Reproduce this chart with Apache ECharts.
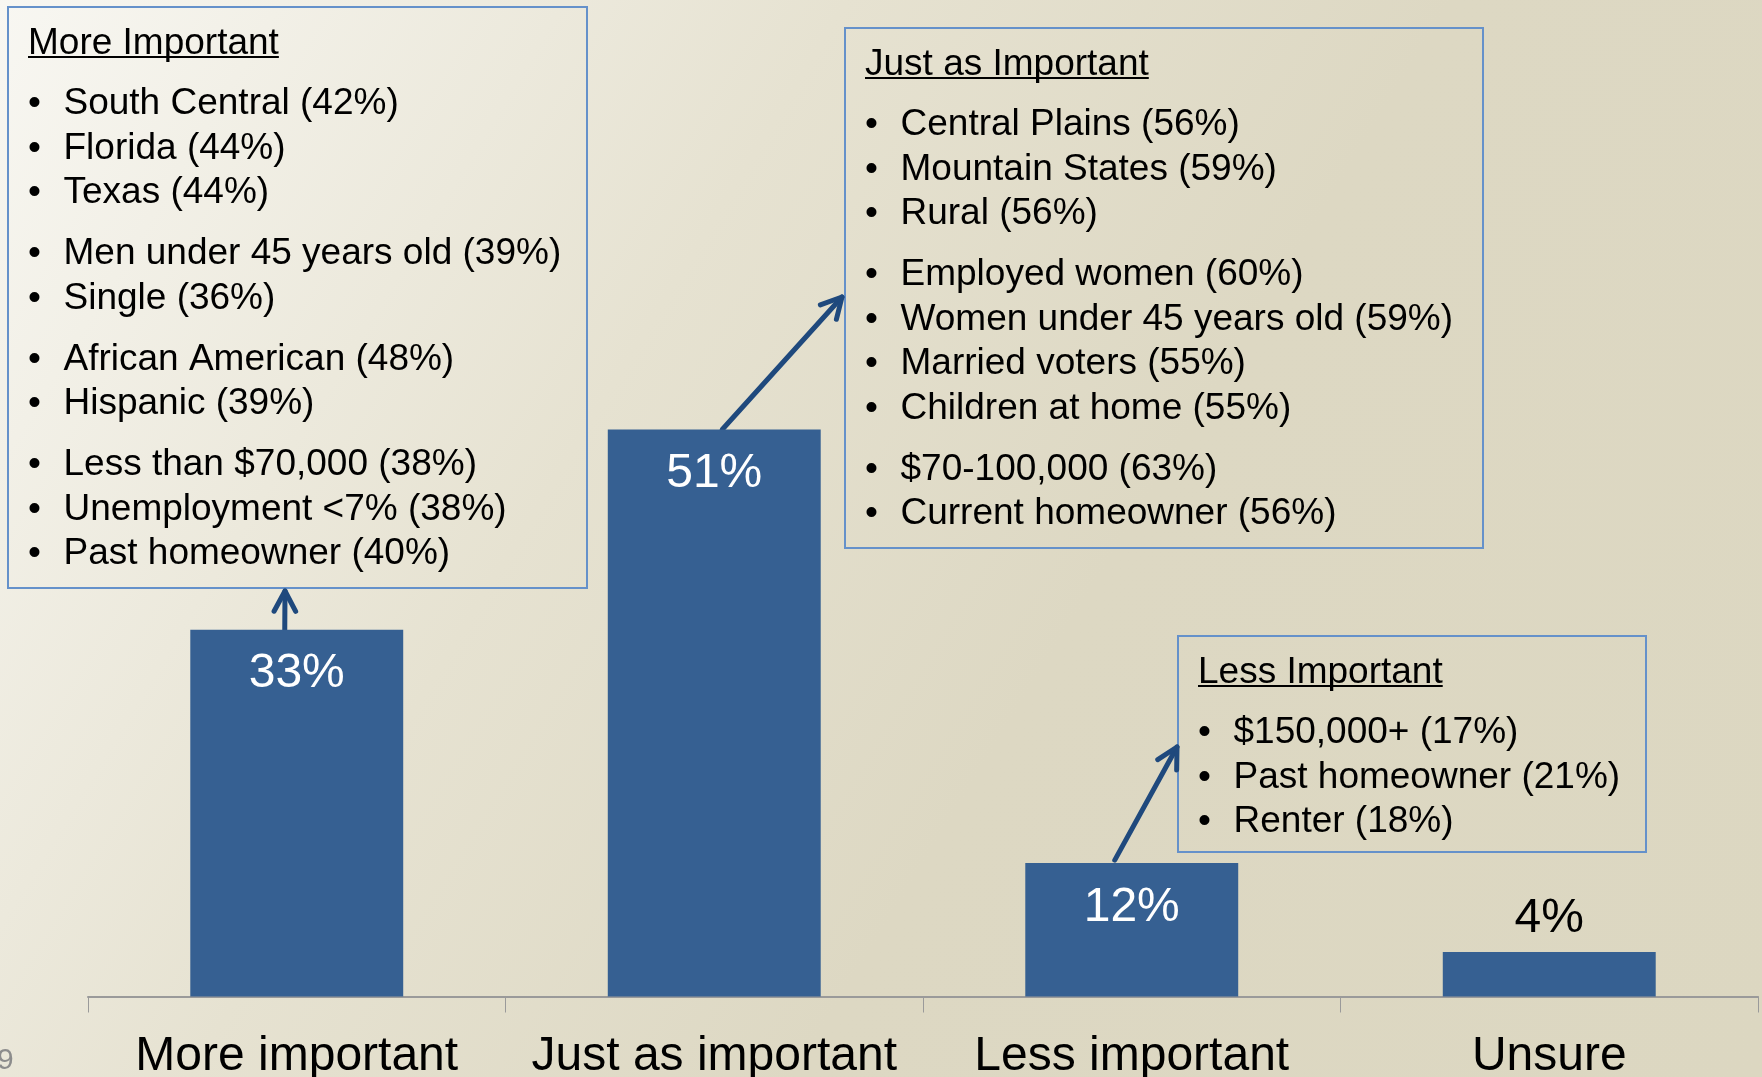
<!DOCTYPE html>
<html>
<head>
<meta charset="utf-8">
<script src="https://cdn.jsdelivr.net/npm/echarts@6/dist/echarts.min.js"></script>
<style>
  html, body { margin: 0; padding: 0; }
  #chart { width: 1762px; height: 1077px; }
</style>
</head>
<body>
<div id="chart"></div>
<script>
// data
var categories = ['More important', 'Just as important', 'Less important', 'Unsure'];
var values = [33, 51, 12, 4];

var moreItems = [
  ['South Central (42%)', 'Florida (44%)', 'Texas (44%)'],
  ['Men under 45 years old (39%)', 'Single (36%)'],
  ['African American (48%)', 'Hispanic (39%)'],
  ['Less than $70,000 (38%)', 'Unemployment <7% (38%)', 'Past homeowner (40%)']
];
var justItems = [
  ['Central Plains (56%)', 'Mountain States (59%)', 'Rural (56%)'],
  ['Employed women (60%)', 'Women under 45 years old (59%)', 'Married voters (55%)', 'Children at home (55%)'],
  ['$70-100,000 (63%)', 'Current homeowner (56%)']
];
var lessItems = [
  ['$150,000+ (17%)', 'Past homeowner (21%)', 'Renter (18%)']
];

var FAMILY = '"Liberation Sans", Arial, sans-serif';
var FONT = '37px ' + FAMILY;

// callout boxes: position + which bar the arrow comes from
var boxes = [
  { title: 'More Important', groups: moreItems, x: 8, y: 7, w: 579, h: 581,
    bar: 0, dx: -12, dy: 0, tip: [285, 591] },
  { title: 'Just as Important', groups: justItems, x: 845, y: 28, w: 638, h: 520,
    bar: 1, dx: 8, dy: 0, tip: [842, 297] },
  { title: 'Less Important', groups: lessItems, x: 1178, y: 636, w: 468, h: 216,
    bar: 2, dx: -17, dy: -3, tip: [1177, 747] }
];

var chart = echarts.init(document.getElementById('chart'));

var measureCtx = document.createElement('canvas').getContext('2d');
function textWidth (s, font) {
  measureCtx.font = font;
  return measureCtx.measureText(s).width;
}

// baseline -> middle for verticalAlign middle
function textEl (s, x, baseline) {
  return {
    type: 'text',
    style: { text: s, x: x, y: baseline - 0.26 * 37, font: FONT, fill: '#000', verticalAlign: 'middle' }
  };
}

function boxGraphics (b) {
  var els = [];
  els.push({
    type: 'rect',
    shape: { x: b.x, y: b.y, width: b.w, height: b.h },
    style: { fill: 'transparent', stroke: '#6591CA', lineWidth: 2 }
  });
  var tx = b.x + 20;
  var base = b.y + 46;
  els.push(textEl(b.title, tx, base));
  var w = textWidth(b.title, FONT);
  els.push({
    type: 'line',
    shape: { x1: tx, y1: base + 4, x2: tx + w, y2: base + 4 },
    style: { stroke: '#000', lineWidth: 2 }
  });
  base += 60.5;
  b.groups.forEach(function (g, gi) {
    if (gi > 0) base += 16.5;
    g.forEach(function (item) {
      els.push(textEl('\u2022', tx, base));
      els.push(textEl(item, b.x + 55.5, base));
      base += 44.5;
    });
  });
  return els;
}

function arrowGraphics (tail, tip) {
  var ang = Math.atan2(tail[1] - tip[1], tail[0] - tip[0]);
  var len = 23, spread = 28 * Math.PI / 180;
  var a1 = [tip[0] + len * Math.cos(ang + spread), tip[1] + len * Math.sin(ang + spread)];
  var a2 = [tip[0] + len * Math.cos(ang - spread), tip[1] + len * Math.sin(ang - spread)];
  var style = { stroke: '#1F497D', lineWidth: 5, lineCap: 'round', lineJoin: 'round', fill: null };
  return [
    { type: 'polyline', shape: { points: [tail, tip] }, style: style },
    { type: 'polyline', shape: { points: [a1, tip, a2] }, style: style }
  ];
}

chart.setOption({
  backgroundColor: {
    type: 'linear', x: 0, y: 0, x2: 1, y2: 1,
    colorStops: [
      { offset: 0, color: '#F8F7F2' },
      { offset: 0.35, color: '#E6E2D1' },
      { offset: 0.6, color: '#DDD8C3' },
      { offset: 1, color: '#DCD7C1' }
    ]
  },
  animation: false,
  grid: { left: 88, right: 4, top: 329.5, bottom: 80.5, containLabel: false, outerBoundsMode: 'none' },
  xAxis: {
    type: 'category',
    data: categories,
    axisLine: { lineStyle: { color: '#9A9A9A', width: 2 } },
    axisTick: { show: true, interval: 0, length: 16, lineStyle: { color: '#9A9A9A', width: 1 } },
    axisLabel: { interval: 0, fontSize: 48, color: '#000', margin: 36.5, fontFamily: FAMILY, hideOverlap: false }
  },
  yAxis: { type: 'value', min: 0, max: 60, show: false },
  series: [{
    type: 'bar',
    barWidth: '51%',
    itemStyle: { color: '#366092' },
    label: { show: true, formatter: '{c}%', fontSize: 48, fontFamily: FAMILY },
    data: values.map(function (v, i) {
      var outside = i === values.length - 1;
      return {
        value: v,
        label: {
          position: outside ? 'top' : 'insideTop',
          distance: outside ? 9.5 : 20.5,
          color: outside ? '#000' : '#fff'
        }
      };
    })
  }]
});

var elements = [];
boxes.forEach(function (b) {
  elements = elements.concat(boxGraphics(b));
  var p = chart.convertToPixel({ seriesIndex: 0 }, [b.bar, values[b.bar]]);
  elements = elements.concat(arrowGraphics([p[0] + b.dx, p[1] + b.dy], b.tip));
});
// slide number
elements.push({
  type: 'text',
  style: { text: '9', x: -3, y: 1069 - 0.26 * 30, font: '30px ' + FAMILY, fill: '#8C8C8C', verticalAlign: 'middle' }
});

chart.setOption({ graphic: { elements: elements } });
</script>
</body>
</html>
